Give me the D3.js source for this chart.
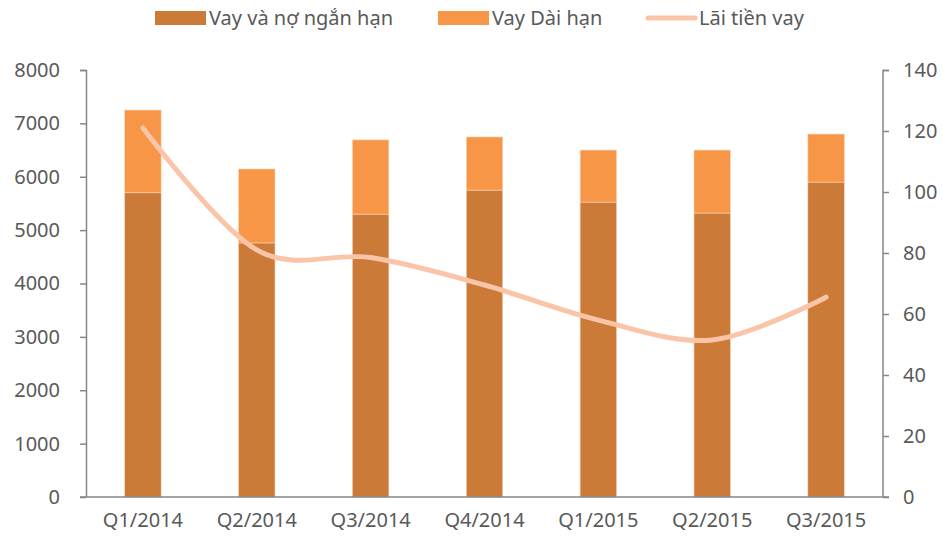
<!DOCTYPE html>
<html>
<head>
<meta charset="utf-8">
<script src="https://cdn.jsdelivr.net/npm/d3@7"></script>
<style>
  body { margin: 0; background: #fff; }
  text { font-family: "Noto Sans", "Open Sans", sans-serif; fill: #595959; }
</style>
</head>
<body>
<div id="vis"></div>
<script>
// data
const quarters = ['Q1/2014', 'Q2/2014', 'Q3/2014', 'Q4/2014', 'Q1/2015', 'Q2/2015', 'Q3/2015'];
const shortTerm = [5700, 4760, 5300, 5750, 5525, 5320, 5900];
const longTerm = [1550, 1385, 1390, 995, 975, 1180, 900];
const interest = [121, 81, 78.5, 69.5, 58, 51.5, 65.5];
const leftTicks = [0, 1000, 2000, 3000, 4000, 5000, 6000, 7000, 8000];
const rightTicks = [0, 20, 40, 60, 80, 100, 120, 140];

const W = 943; const H = 540;
const margin = {top: 70, right: 60, bottom: 43, left: 86};
const width = W - margin.left - margin.right;
const height = H - margin.top - margin.bottom;

const svg = d3.select('#vis')
  .append('svg')
  .attr('width', W)
  .attr('height', H);

const g = svg.append('g')
  .attr('transform', 'translate(' + margin.left + ',' + margin.top + ')');

const x = d3.scaleBand().domain(quarters).range([0, width]).paddingInner(0.68).paddingOuter(0.34);
const y = d3.scaleLinear().domain([0, 8000]).range([height, 0]);
const y2 = d3.scaleLinear().domain([0, 140]).range([height, 0]);

const axisColor = '#868686';

// bars
const stack = quarters.map((q, i) => ({q: q, s: shortTerm[i], l: longTerm[i]}));
g.selectAll('rect.short')
  .data(stack)
  .enter()
  .append('rect')
  .attr('class', 'short')
  .attr('x', (d) => x(d.q))
  .attr('y', (d) => y(d.s))
  .attr('width', x.bandwidth())
  .attr('height', (d) => y(0) - y(d.s))
  .attr('fill', '#CC7A38')
  .attr('stroke', '#f3d2b6')
  .attr('stroke-width', 0.6);

g.selectAll('rect.long')
  .data(stack)
  .enter()
  .append('rect')
  .attr('class', 'long')
  .attr('x', (d) => x(d.q))
  .attr('y', (d) => y(d.s + d.l))
  .attr('width', x.bandwidth())
  .attr('height', (d) => y(d.s) - y(d.s + d.l))
  .attr('fill', '#F79646')
  .attr('stroke', '#f9d6b8')
  .attr('stroke-width', 0.6);

// interest line
const line = d3.line()
  .x((d, i) => x(quarters[i]) + x.bandwidth() / 2)
  .y((d) => y2(d))
  .curve(d3.curveCardinal.tension(0));

g.append('path')
  .datum(interest)
  .attr('d', line)
  .attr('fill', 'none')
  .attr('stroke', '#F9C4A7')
  .attr('stroke-width', 5)
  .attr('stroke-linecap', 'round');

// axes
const leftAxis = g.append('g')
  .call(d3.axisLeft(y).tickValues(leftTicks).tickFormat(d3.format('d')).tickSize(6).tickPadding(20));
const rightAxis = g.append('g')
  .attr('transform', 'translate(' + width + ',0)')
  .call(d3.axisRight(y2).tickValues(rightTicks).tickSize(6).tickPadding(14));
const bottomAxis = g.append('g')
  .attr('transform', 'translate(0,' + height + ')')
  .call(d3.axisBottom(x).tickSize(0).tickPadding(16));

[leftAxis, rightAxis, bottomAxis].forEach((a) => {
  a.selectAll('path, line').attr('stroke', axisColor).attr('stroke-width', 1.5);
  a.selectAll('text')
    .style('font-size', '20px')
    .style('font-family', '"Noto Sans", sans-serif')
    .attr('fill', '#595959');
});
leftAxis.select('.domain').attr('d', 'M-6,0.5H0.5V' + height);
rightAxis.select('.domain').attr('d', 'M6,0.5H0V' + height);
bottomAxis.select('.domain').attr('d', 'M-6,0H' + (width + 6));

// legend
const legend = svg.append('g').attr('transform', 'translate(0,18)');
const items = [
  {label: 'Vay và nợ ngắn hạn', color: '#CC7A38', type: 'rect', x: 155},
  {label: 'Vay Dài hạn', color: '#F79646', type: 'rect', x: 438},
  {label: 'Lãi tiền vay', color: '#F9C4A7', type: 'line', x: 645},
];
items.forEach((it) => {
  if (it.type === 'rect') {
    legend.append('rect')
      .attr('x', it.x).attr('y', -7).attr('width', 51).attr('height', 14)
      .attr('fill', it.color);
  } else {
    legend.append('line')
      .attr('x1', it.x + 3).attr('x2', it.x + 50).attr('y1', 0).attr('y2', 0)
      .attr('stroke', it.color).attr('stroke-width', 5).attr('stroke-linecap', 'round');
  }
  legend.append('text')
    .attr('x', it.x + 54)
    .attr('y', 0)
    .attr('dy', '0.35em')
    .style('font-size', '20px')
    .text(it.label);
});
</script>
</body>
</html>
